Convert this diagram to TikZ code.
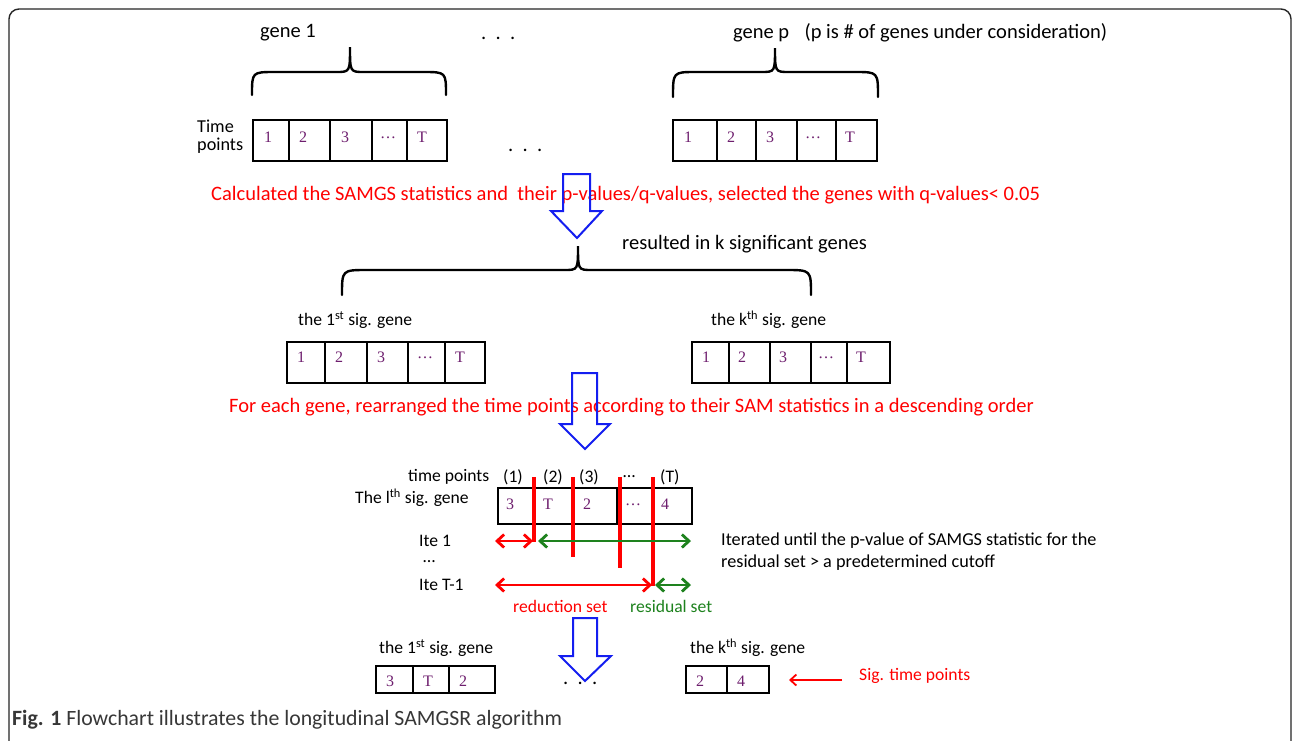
\documentclass[tikz,border=0pt]{standalone}
\usepackage{fontspec}
\setmainfont{Carlito}
\newfontfamily\numfont{Liberation Serif}
\usetikzlibrary{arrows.meta}
\definecolor{numpurple}{RGB}{110,30,110}
\definecolor{dkgreen}{RGB}{30,130,30}
\definecolor{capgray}{RGB}{55,55,55}
\definecolor{arrblue}{RGB}{20,30,240}
\begin{document}
\begin{tikzpicture}[x=1pt,y=-1pt,
  biglbl/.style={font=\fontsize{20.5}{24}\selectfont, inner sep=0pt, anchor=west},
  lbl/.style={font=\fontsize{17.6}{21}\selectfont, inner sep=0pt, anchor=west},
  redbig/.style={biglbl, text=red},
  redlbl/.style={lbl, text=red},
  grnlbl/.style={lbl, text=dkgreen},
  num/.style={font=\numfont\fontsize{16}{19}\selectfont, text=numpurple, inner sep=0pt, anchor=west},
  bracepath/.style={line width=2.4pt, line cap=round},
  cellbox/.style={line width=1.2pt},
  thickbox/.style={line width=1.8pt},
  bluearrow/.style={draw=arrblue, line width=2pt, line join=miter},
  redvline/.style={draw=red, line width=3.2pt},
  redarr/.style={draw=red, line width=2.8pt, {Straight Barb[length=7pt,width=13pt,line width=2.8pt]}-{Straight Barb[length=7pt,width=13pt,line width=2.8pt]}},
  grnarr/.style={draw=dkgreen, line width=2.8pt, {Straight Barb[length=7pt,width=13pt,line width=2.8pt]}-{Straight Barb[length=7pt,width=13pt,line width=2.8pt]}},
  sigarr/.style={draw=red, line width=1.8pt, -{Straight Barb[length=6pt,width=11pt,line width=1.8pt]}}
]
\useasboundingbox (0,0) rectangle (1292,740);
\clip (0,0) rectangle (1292,740);
\fill[white] (0,0) rectangle (1292,740);
% frame
\draw[line width=1.4pt, draw=black!85, rounded corners=10pt] (9,9) rectangle (1291,760);

% ---------- top row ----------
\node[biglbl] (g1) at (260,33) {gene 1};
\node[biglbl] (dots1) at (481,38) {.\ \ .\ \ .};
\node[biglbl] (gp) at (733,33) {gene p\hspace{0.75em}(p is \# of genes under consideration)};
% braces
\draw[bracepath] (252,95) .. controls (252,72) .. (275,72) -- (336,72) .. controls (350,72) .. (350,47)
                 .. controls (350,72) .. (364,72) -- (423,72) .. controls (446,72) .. (446,95);
\draw[bracepath] (673,97) .. controls (673,72) .. (696,72) -- (761,72) .. controls (775,72) .. (775,48)
                 .. controls (775,72) .. (789,72) -- (855,72) .. controls (878,72) .. (878,97);
\node[lbl, font=\fontsize{18.2}{21}\selectfont] (tp1) at (197,126) {Time};
\node[lbl, font=\fontsize{18.2}{21}\selectfont] (tp2) at (197,146) {points};
% box gene 1
\draw[cellbox] (253,120) rectangle (447,161);
\foreach \x in {289,330,372,407} \draw[cellbox] (\x,120) -- (\x,161);
\node[num] (a1) at (264,137) {1};
\node[num] (a2) at (299,137) {2};
\node[num] (a3) at (341,137) {3};
\node[num] (a4) at (380,138) {\ldots};
\node[num] (a5) at (417,137) {T};
\node[biglbl] (dots2) at (508,150) {.\ \ .\ \ .};
% box gene p
\draw[cellbox] (673,120) rectangle (877,161);
\foreach \x in {717,756,797,836} \draw[cellbox] (\x,120) -- (\x,161);
\node[num] (b1) at (684,137) {1};
\node[num] (b2) at (727,137) {2};
\node[num] (b3) at (766,137) {3};
\node[num] (b4) at (805,138) {\ldots};
\node[num] (b5) at (845,137) {T};

% ---------- step 1 ----------
\node[redbig] (r1) at (211,195) {Calculated the SAMGS statistics and\ \ their p-values/q-values, selected the genes with q-values< 0.05};
\draw[bluearrow] (563,174) -- (563,211) -- (551,211) -- (577,238) -- (602,211) -- (590,211) -- (590,174) -- cycle;
\node[biglbl] (res) at (622,244) {resulted in k significant genes};
\draw[bracepath] (342,295) .. controls (342,270) .. (367,270) -- (564,270) .. controls (578,270) .. (578,246)
                 .. controls (578,270) .. (592,270) -- (786,270) .. controls (811,270) .. (811,295);

% ---------- row 2 ----------
\node[lbl] (s1) at (298,320) {the 1\textsuperscript{st} sig. gene};
\node[lbl] (sk) at (711,320) {the k\textsuperscript{th} sig. gene};
\draw[cellbox] (287,342) rectangle (485,383);
\foreach \x in {325,367,408,445} \draw[cellbox] (\x,342) -- (\x,383);
\node[num] (c1) at (297,357) {1};
\node[num] (c2) at (335,357) {2};
\node[num] (c3) at (377,357) {3};
\node[num] (c4) at (417,358) {\ldots};
\node[num] (c5) at (455,357) {T};
\draw[cellbox] (692,342) rectangle (890,383);
\foreach \x in {729,770,811,847} \draw[cellbox] (\x,342) -- (\x,383);
\node[num] (d1) at (702,357) {1};
\node[num] (d2) at (738,357) {2};
\node[num] (d3) at (779,357) {3};
\node[num] (d4) at (818,358) {\ldots};
\node[num] (d5) at (856,357) {T};

% ---------- step 2 ----------
\node[redbig] (r2) at (229,407) {For each gene, rearranged the time points according to their SAM statistics in a descending order};
\draw[bluearrow] (572,373) -- (572,424) -- (560,424) -- (585,449) -- (610,424) -- (597,424) -- (597,373) -- cycle;

% ---------- row 3 ----------
\node[lbl] (tpl) at (408,477) {time points};
\node[lbl] (p1) at (503,477) {(1)};
\node[lbl] (p2) at (543,477) {(2)};
\node[lbl] (p3) at (579,477) {(3)};
\node[lbl] (p4) at (623,477) {\ldots};
\node[lbl] (p5) at (660,477) {(T)};
\node[lbl] (lth) at (355,498) {The l\textsuperscript{th} sig. gene};
\draw[thickbox] (498,488) rectangle (692,524);
\draw[thickbox] (617,488) -- (617,524);
\node[num] (e1) at (506,504) {3};
\node[num] (e2) at (543,504) {T};
\node[num] (e3) at (583,504) {2};
\node[num] (e4) at (625,505) {\ldots};
\node[num] (e5) at (661,504) {4};
% red cut lines
\coordinate (v1t) at (534,477); \coordinate (v1b) at (534,542);
\coordinate (v2t) at (573,477); \coordinate (v2b) at (573,557);
\coordinate (v3t) at (620,477); \coordinate (v3b) at (620,568);
\coordinate (v4t) at (653,477); \coordinate (v4b) at (653,586);
\draw[redvline] (v1t) -- (v1b);
\draw[redvline] (v2t) -- (v2b);
\draw[redvline] (v3t) -- (v3b);
\draw[redvline] (v4t) -- (v4b);
\node[lbl] (it1) at (419,541) {Ite 1};
\node[lbl] (itd) at (423,562) {\ldots};
\node[lbl] (itT) at (419,585) {Ite T-1};
\coordinate (ar1) at (495,541); \coordinate (ar1e) at (533,541);
\coordinate (ag1) at (538,541); \coordinate (ag1e) at (691,541);
\coordinate (ar2) at (495,585); \coordinate (ar2e) at (652,585);
\coordinate (ag2) at (655,585); \coordinate (ag2e) at (691,585);
\draw[redarr] (ar1) -- (ar1e);
\draw[grnarr] (ag1) -- (ag1e);
\draw[redarr] (ar2) -- (ar2e);
\draw[grnarr] (ag2) -- (ag2e);
\node[lbl, font=\fontsize{18.2}{22}\selectfont] (it1a) at (721,541) {Iterated until the p-value of SAMGS statistic for the};
\node[lbl, font=\fontsize{18.2}{22}\selectfont] (it1b) at (721,563) {residual set > a predetermined cutoff};
\node[redlbl] (redset) at (513,606) {reduction set};
\node[grnlbl] (resset) at (630,606) {residual set};

% ---------- step 3 ----------
\draw[bluearrow] (573,618) -- (573,656) -- (560,656) -- (585,681) -- (611,656) -- (597,656) -- (597,618) -- cycle;

% ---------- row 4 ----------
\node[lbl] (f1) at (379,648) {the 1\textsuperscript{st} sig. gene};
\node[lbl] (fk) at (690,648) {the k\textsuperscript{th} sig. gene};
\draw[cellbox] (376,666) rectangle (495,693);
\foreach \x in {413,449} \draw[cellbox] (\x,666) -- (\x,693);
\node[num] (g1a) at (386,681) {3};
\node[num] (g1b) at (423,681) {T};
\node[num] (g1c) at (459,681) {2};
\node[biglbl] (dots3) at (563,683) {.\ \ .\ \ .};
\draw[cellbox] (686,666) rectangle (769,693);
\draw[cellbox] (727,666) -- (727,693);
\node[num] (h1) at (696,681) {2};
\node[num] (h2) at (737,681) {4};
\node[redlbl] (sig) at (859,676) {Sig. time points};
\coordinate (sigs) at (842,680);
\coordinate (sige) at (789,680);
\draw[sigarr] (sigs) -- (sige);

% caption
\node[inner sep=0pt, anchor=west, text=capgray, font=\fontsize{21.8}{26}\selectfont] (cap) at (12,720) {\textbf{Fig. 1} Flowchart illustrates the longitudinal SAMGSR algorithm};
\end{tikzpicture}
\end{document}
